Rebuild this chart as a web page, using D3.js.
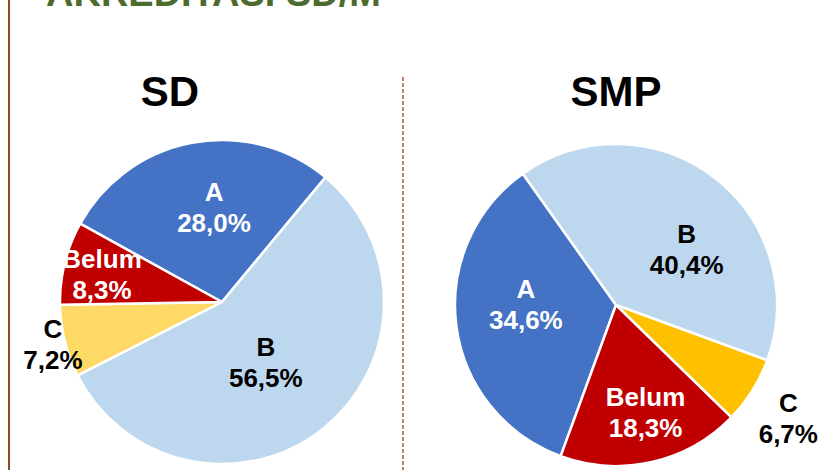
<!DOCTYPE html>
<html>
<head>
<meta charset="utf-8">
<script src="https://cdn.jsdelivr.net/npm/d3@7"></script>
<style>
  html, body { margin: 0; padding: 0; background: #fff; }
  svg { display: block; }
  text { font-family: "Liberation Sans", Arial, sans-serif; font-weight: bold; }
</style>
</head>
<body>
<svg id="chart" width="822" height="470"></svg>
<script>
// ---- data ----
const pageTitle = "AKREDITASI SD/M";
const chartTitles = ["SD", "SMP"];
const categories = ["A", "B", "C", "Belum"];
const sdValues = [28.0, 56.5, 7.2, 8.3];
const smpValues = [34.6, 40.4, 6.7, 18.3];

// ---- styling / layout ----
const sdColors = ["#4472C4", "#BDD7EE", "#FFD966", "#C00000"];
const smpColors = ["#4472C4", "#BDD7EE", "#FFC000", "#C00000"];
const labelColors = ["#ffffff", "#000000", "#000000", "#ffffff"];

const svg = d3.select("#chart");

// left border
svg.append("line")
  .attr("x1", 9).attr("x2", 9).attr("y1", 0).attr("y2", 470)
  .attr("stroke", "#8E4B1F").attr("stroke-width", 2);

// page title (clipped at top)
svg.append("text")
  .attr("x", 46).attr("y", 6)
  .attr("font-size", 38)
  .attr("fill", "#4E6B2E")
  .text(pageTitle);

// divider
svg.append("line")
  .attr("x1", 403).attr("x2", 403).attr("y1", 77).attr("y2", 470)
  .attr("stroke", "#A0603A").attr("stroke-width", 1.5)
  .attr("stroke-dasharray", "4,2");

const deg = Math.PI / 180;

const pies = [
  { title: chartTitles[0], values: sdValues, colors: sdColors,
    cx: 222, cy: 302, r: 162, start: -61.1, titleX: 170,
    // label radius factor and angle shift (deg) for each category
    labels: [[0.59, 5.9], [0.46, 2.6], [1.075, 0], [0.76, -1]] },
  { title: chartTitles[1], values: smpValues, colors: smpColors,
    cx: 616, cy: 305, r: 161, start: 200.1, titleX: 616,
    labels: [[0.56, 8.5], [0.56, 14.3], [1.28, 1.1], [0.69, -2.6]] }
];

const fmt = v => d3.format(".1f")(v).replace(".", ",") + "%";

pies.forEach(p => {
  const g = svg.append("g").attr("transform", `translate(${p.cx},${p.cy})`);
  const pie = d3.pie().sort(null).value(d => d)
    .startAngle(p.start * deg).endAngle(p.start * deg + 2 * Math.PI);
  const arcs = pie(p.values);
  const arc = d3.arc().innerRadius(0).outerRadius(p.r);

  g.selectAll("path").data(arcs).join("path")
    .attr("d", arc)
    .attr("fill", (d, i) => p.colors[i])
    .attr("stroke", "#fff")
    .attr("stroke-width", 2.5)
    .attr("stroke-linejoin", "round");

  arcs.forEach((d, i) => {
    const [k, shift] = p.labels[i];
    const a = (d.startAngle + d.endAngle) / 2 + shift * deg;
    const rr = p.r * k;
    const x = rr * Math.sin(a);
    const y = -rr * Math.cos(a);
    const t = g.append("text")
      .attr("text-anchor", "middle")
      .attr("font-size", 26)
      .attr("fill", labelColors[i]);
    t.append("tspan").attr("x", x).attr("y", y - 6).text(categories[i]);
    t.append("tspan").attr("x", x).attr("y", y + 25).text(fmt(d.data));
  });

  svg.append("text")
    .attr("x", p.titleX).attr("y", 106)
    .attr("text-anchor", "middle")
    .attr("font-size", 42)
    .attr("fill", "#000")
    .text(p.title);
});
</script>
</body>
</html>
